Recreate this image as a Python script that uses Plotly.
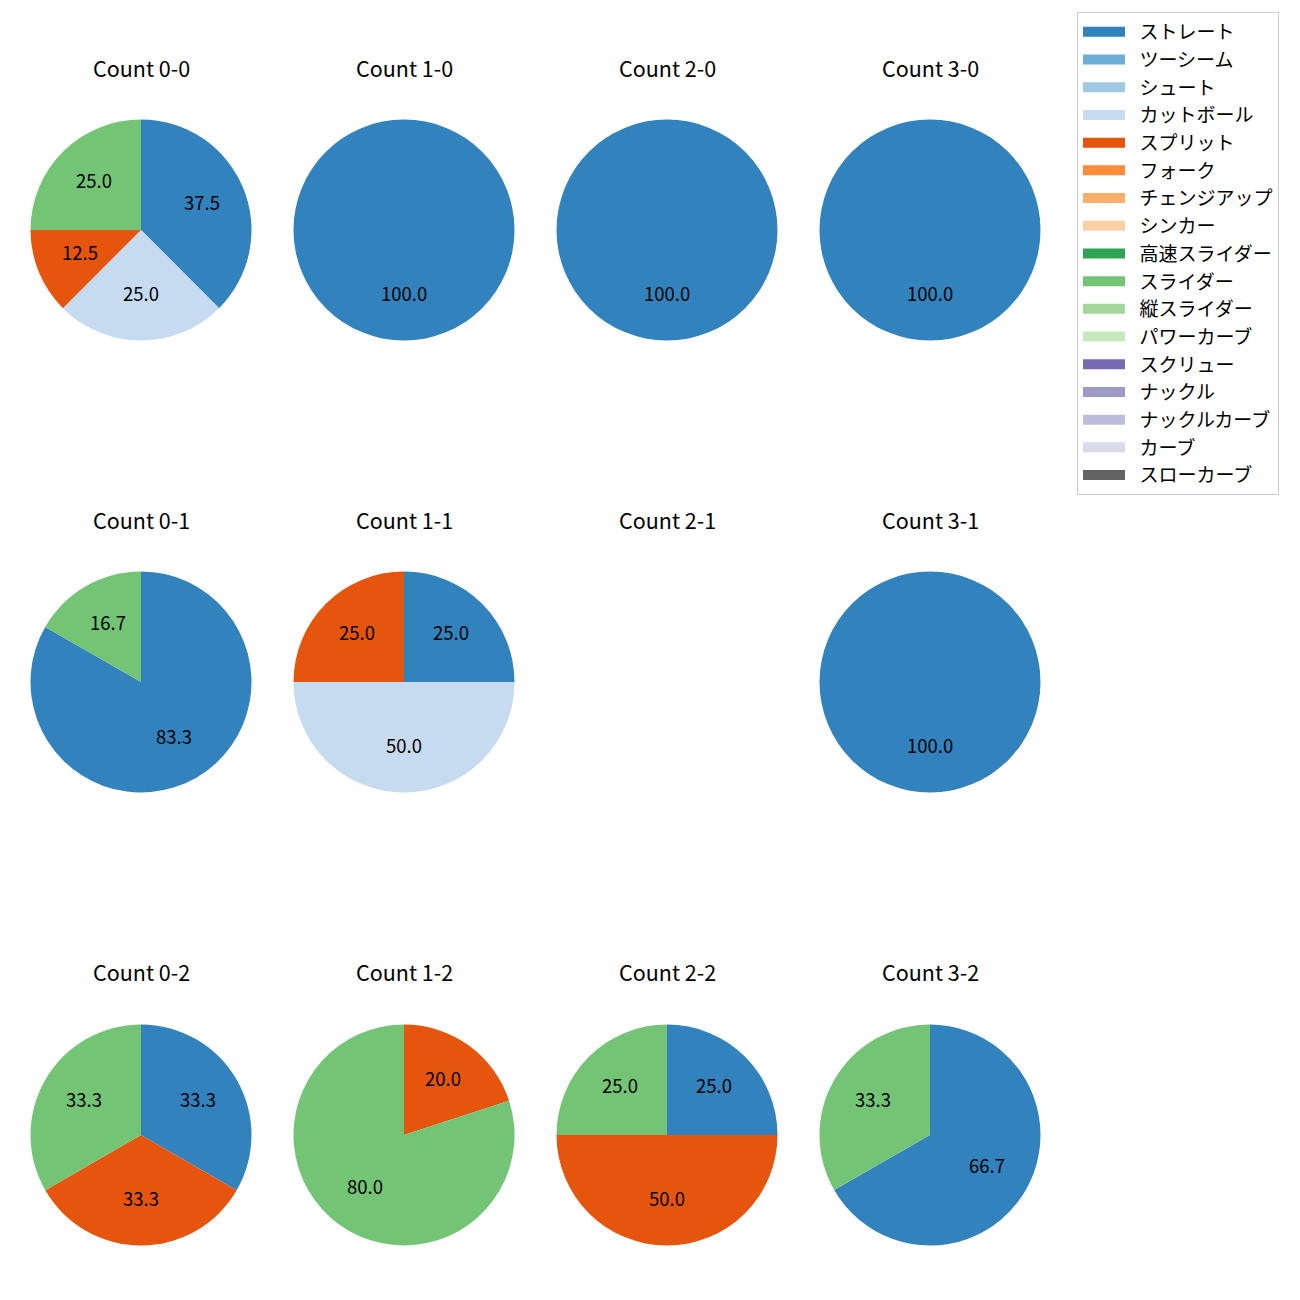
import math
import plotly.graph_objects as go

pitch_types = ["ストレート", "ツーシーム", "シュート", "カットボール", "スプリット", "フォーク",
               "チェンジアップ", "シンカー", "高速スライダー", "スライダー", "縦スライダー",
               "パワーカーブ", "スクリュー", "ナックル", "ナックルカーブ", "カーブ", "スローカーブ"]
colors = ["#3182bd", "#6baed6", "#9ecae1", "#c6dbef", "#e6550d", "#fd8d3c", "#fdae6b",
          "#fdd0a2", "#31a354", "#74c476", "#a1d99b", "#c7e9c0", "#756bb1", "#9e9ac8",
          "#bcbddc", "#dadaeb", "#636363"]

# (balls, strikes) -> {pitch: percent}
count_0_0 = {"ストレート": 37.5, "カットボール": 25.0, "スプリット": 12.5, "スライダー": 25.0}
count_1_0 = {"ストレート": 100.0}
count_2_0 = {"ストレート": 100.0}
count_3_0 = {"ストレート": 100.0}
count_0_1 = {"ストレート": 83.3, "スライダー": 16.7}
count_1_1 = {"ストレート": 25.0, "カットボール": 50.0, "スプリット": 25.0}
count_2_1 = {}
count_3_1 = {"ストレート": 100.0}
count_0_2 = {"ストレート": 33.3, "スプリット": 33.3, "スライダー": 33.3}
count_1_2 = {"スプリット": 20.0, "スライダー": 80.0}
count_2_2 = {"ストレート": 25.0, "スプリット": 50.0, "スライダー": 25.0}
count_3_2 = {"ストレート": 66.7, "スライダー": 33.3}

data = {
    (0, 0): count_0_0, (1, 0): count_1_0, (2, 0): count_2_0, (3, 0): count_3_0,
    (0, 1): count_0_1, (1, 1): count_1_1, (2, 1): count_2_1, (3, 1): count_3_1,
    (0, 2): count_0_2, (1, 2): count_1_2, (2, 2): count_2_2, (3, 2): count_3_2,
}

W = H = 1300
OFF = 8  # browser body margin
cx = [141 - OFF, 404 - OFF, 667 - OFF, 930 - OFF]
cy = [230 - OFF, 682 - OFF, 1135 - OFF]
R = 110.5
title_y = [69 - OFF, 521 - OFF, 973 - OFF]

color_map = dict(zip(pitch_types, colors))
font = "Noto Sans CJK JP"

fig = go.Figure()
annotations = []
for (b, s), d in data.items():
    x0, x1 = (cx[b] - R) / W, (cx[b] + R) / W
    y0, y1 = 1 - (cy[s] + R) / H, 1 - (cy[s] - R) / H
    annotations.append(dict(text=f"Count {b}-{s}", x=cx[b] / W, y=1 - title_y[s] / H,
                            xref="paper", yref="paper", showarrow=False, yshift=2,
                            font=dict(size=21.5, color="black", family=font),
                            xanchor="center", yanchor="middle"))
    if not d:
        continue
    labels = list(d.keys())
    values = list(d.values())
    fig.add_trace(go.Pie(
        labels=labels, values=values, sort=False, direction="clockwise", rotation=0,
        domain=dict(x=[x0, x1], y=[y0, y1]),
        marker=dict(colors=[color_map[l] for l in labels], line=dict(width=0)),
        textinfo="none", showlegend=False, hoverinfo="label+value",
    ))
    # percentage labels at 0.6 radius (matplotlib pctdistance), clockwise from 12 o'clock
    total = sum(values)
    cum = 0.0
    for v in values:
        mid = math.radians(90 - 360 * (cum + v / 2) / total)
        cum += v
        px = cx[b] + 0.6 * R * math.cos(mid)
        py = cy[s] - 0.6 * R * math.sin(mid)
        annotations.append(dict(text=f"{v:.1f}", x=px / W, y=1 - py / H,
                                xref="paper", yref="paper", showarrow=False, yshift=3,
                                font=dict(size=18.5, color="black", family=font),
                                xanchor="center", yanchor="middle"))

for p, c in zip(pitch_types, colors):
    fig.add_trace(go.Scatter(x=[None], y=[None], name="\u2002" + p, mode="lines",
                             line=dict(color=c, width=16),
                             legendgroup=p, showlegend=True))

fig.update_layout(
    width=W, height=H, margin=dict(l=0, r=0, t=0, b=0),
    paper_bgcolor="white", plot_bgcolor="white",
    xaxis=dict(visible=False), yaxis=dict(visible=False),
    annotations=annotations,
    legend=dict(x=(1077 - OFF) / W, y=1 - (12 - OFF) / H, xanchor="left", yanchor="top",
                bordercolor="#cccccc", borderwidth=1, bgcolor="white",
                font=dict(size=19, color="black", family=font),
                tracegroupgap=0, itemwidth=42),
)

fig.write_html("out.html")
